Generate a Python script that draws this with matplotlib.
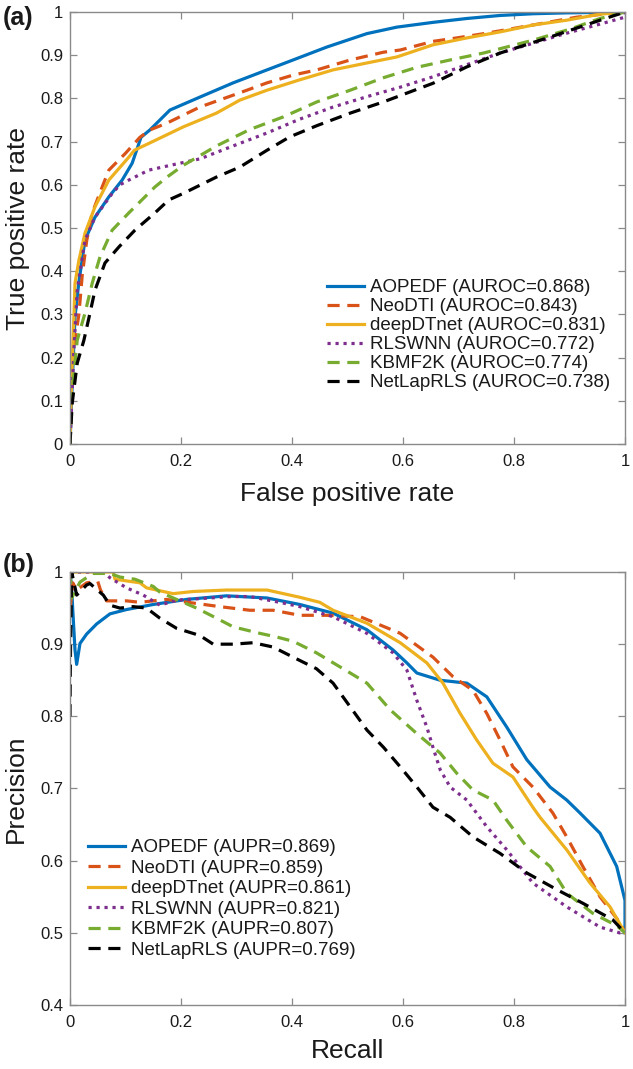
"""
Curvas ROC (a) y Precision-Recall (b) de los seis metodos.
"""

import matplotlib
matplotlib.use("Agg")
import matplotlib.pyplot as plt

# ---------------------------------------------------------------- datos
methods = ["AOPEDF", "NeoDTI", "deepDTnet", "RLSWNN", "KBMF2K", "NetLapRLS"]
auroc = ["0.868", "0.843", "0.831", "0.772", "0.774", "0.738"]
aupr = ["0.869", "0.859", "0.861", "0.821", "0.807", "0.769"]

# (a) ROC: false positive rate / true positive rate
aopedf_fpr = [0, 0.004, 0.009, 0.016, 0.027, 0.045, 0.07, 0.094, 0.112, 0.12, 0.128, 0.144, 0.18, 0.234, 0.294, 0.355, 0.402, 0.463, 0.535, 0.589, 0.654, 0.715, 0.775, 0.835, 0.895, 0.95, 1.0]
aopedf_tpr = [0, 0.14, 0.294, 0.375, 0.472, 0.525, 0.572, 0.611, 0.65, 0.68, 0.71, 0.727, 0.773, 0.803, 0.836, 0.866, 0.889, 0.919, 0.95, 0.965, 0.976, 0.985, 0.992, 0.996, 0.998, 0.999, 1.0]

neodti_fpr = [0, 0.004, 0.009, 0.016, 0.018, 0.022, 0.03, 0.04, 0.058, 0.07, 0.1, 0.126, 0.144, 0.175, 0.234, 0.306, 0.355, 0.402, 0.445, 0.505, 0.565, 0.595, 0.654, 0.697, 0.751, 0.865, 0.913, 0.96, 1.0]
neodti_tpr = [0, 0.13, 0.24, 0.3, 0.33, 0.39, 0.47, 0.535, 0.595, 0.634, 0.673, 0.71, 0.727, 0.743, 0.78, 0.813, 0.836, 0.854, 0.866, 0.889, 0.907, 0.912, 0.932, 0.94, 0.951, 0.977, 0.988, 0.995, 1.0]

deepdtnet_fpr = [0, 0.003, 0.007, 0.009, 0.016, 0.027, 0.045, 0.07, 0.106, 0.116, 0.144, 0.204, 0.264, 0.306, 0.355, 0.414, 0.474, 0.535, 0.589, 0.654, 0.715, 0.775, 0.835, 0.895, 0.955, 1.0]
deepdtnet_tpr = [0, 0.15, 0.294, 0.372, 0.425, 0.488, 0.549, 0.611, 0.664, 0.68, 0.697, 0.734, 0.766, 0.796, 0.819, 0.843, 0.866, 0.882, 0.896, 0.924, 0.94, 0.954, 0.97, 0.981, 0.995, 1.0]

rlswnn_fpr = [0, 0.002, 0.007, 0.013, 0.027, 0.045, 0.076, 0.09, 0.106, 0.142, 0.184, 0.234, 0.294, 0.355, 0.414, 0.474, 0.535, 0.595, 0.654, 0.715, 0.775, 0.835, 0.895, 0.955, 1.0, 1.0]
rlswnn_tpr = [0, 0.062, 0.217, 0.356, 0.472, 0.525, 0.58, 0.6, 0.611, 0.634, 0.646, 0.66, 0.69, 0.72, 0.752, 0.78, 0.804, 0.826, 0.85, 0.878, 0.905, 0.928, 0.951, 0.972, 0.988, 1.0]

kbmf2k_fpr = [0, 0.002, 0.013, 0.027, 0.04, 0.054, 0.076, 0.106, 0.153, 0.175, 0.204, 0.264, 0.324, 0.384, 0.445, 0.505, 0.565, 0.625, 0.685, 0.745, 0.835, 0.9, 0.955, 1.0]
kbmf2k_tpr = [0, 0.095, 0.24, 0.303, 0.372, 0.433, 0.495, 0.535, 0.595, 0.618, 0.645, 0.69, 0.728, 0.757, 0.792, 0.819, 0.848, 0.872, 0.889, 0.905, 0.935, 0.96, 0.985, 1.0]

netlaprls_fpr = [0, 0.004, 0.013, 0.025, 0.036, 0.045, 0.063, 0.088, 0.117, 0.153, 0.178, 0.204, 0.264, 0.306, 0.355, 0.396, 0.445, 0.505, 0.565, 0.654, 0.715, 0.775, 0.865, 0.955, 1.0]
netlaprls_tpr = [0, 0.095, 0.187, 0.24, 0.303, 0.356, 0.419, 0.456, 0.495, 0.535, 0.565, 0.58, 0.618, 0.641, 0.68, 0.711, 0.737, 0.766, 0.792, 0.835, 0.873, 0.905, 0.942, 0.981, 1.0]

# (b) PR: recall / precision
aopedf_rec = [0, 0.003, 0.005, 0.009, 0.012, 0.018, 0.03, 0.048, 0.072, 0.102, 0.15, 0.21, 0.282, 0.355, 0.414, 0.474, 0.535, 0.582, 0.607, 0.625, 0.667, 0.715, 0.751, 0.787, 0.823, 0.865, 0.895, 0.919, 0.955, 0.985, 1.0, 1.0]
aopedf_prec = [1.0, 0.978, 0.947, 0.892, 0.872, 0.901, 0.914, 0.928, 0.942, 0.948, 0.955, 0.962, 0.967, 0.964, 0.955, 0.943, 0.92, 0.892, 0.874, 0.86, 0.85, 0.846, 0.827, 0.785, 0.74, 0.702, 0.684, 0.666, 0.638, 0.592, 0.545, 0.5]

neodti_rec = [0, 0.005, 0.012, 0.03, 0.05, 0.055, 0.066, 0.102, 0.126, 0.174, 0.222, 0.27, 0.324, 0.366, 0.414, 0.463, 0.523, 0.595, 0.654, 0.69, 0.726, 0.751, 0.775, 0.798, 0.834, 0.87, 0.895, 0.924, 0.955, 0.991, 1.0]
neodti_prec = [0.947, 0.985, 0.975, 0.985, 0.987, 0.975, 0.96, 0.96, 0.958, 0.962, 0.957, 0.952, 0.947, 0.947, 0.94, 0.94, 0.938, 0.915, 0.882, 0.855, 0.836, 0.804, 0.767, 0.73, 0.702, 0.666, 0.633, 0.592, 0.55, 0.514, 0.5]

deepdtnet_rec = [0, 0.078, 0.081, 0.126, 0.138, 0.186, 0.222, 0.282, 0.355, 0.414, 0.45, 0.474, 0.535, 0.595, 0.643, 0.672, 0.703, 0.733, 0.762, 0.798, 0.834, 0.847, 0.895, 0.937, 0.973, 1.0]
deepdtnet_prec = [1.0, 1.0, 0.99, 0.985, 0.978, 0.97, 0.973, 0.975, 0.975, 0.965, 0.958, 0.947, 0.929, 0.902, 0.874, 0.846, 0.804, 0.767, 0.735, 0.716, 0.674, 0.66, 0.615, 0.569, 0.536, 0.5]

rlswnn_rec = [0, 0.06, 0.072, 0.102, 0.132, 0.162, 0.192, 0.252, 0.29, 0.324, 0.384, 0.414, 0.474, 0.535, 0.582, 0.607, 0.625, 0.643, 0.654, 0.667, 0.685, 0.715, 0.751, 0.787, 0.834, 0.895, 0.955, 0.99, 1.0]
rlswnn_prec = [1.0, 1.0, 0.992, 0.978, 0.968, 0.954, 0.961, 0.964, 0.966, 0.966, 0.957, 0.952, 0.938, 0.915, 0.888, 0.864, 0.822, 0.785, 0.757, 0.726, 0.702, 0.684, 0.647, 0.615, 0.569, 0.536, 0.508, 0.5, 0.5]

kbmf2k_rec = [0, 0.003, 0.018, 0.041, 0.072, 0.09, 0.117, 0.15, 0.162, 0.186, 0.228, 0.264, 0.294, 0.342, 0.372, 0.402, 0.444, 0.505, 0.535, 0.577, 0.625, 0.667, 0.697, 0.726, 0.762, 0.787, 0.823, 0.865, 0.895, 0.942, 0.985, 1.0]
kbmf2k_prec = [1.0, 0.964, 0.986, 0.998, 0.998, 0.993, 0.99, 0.98, 0.972, 0.964, 0.95, 0.936, 0.924, 0.915, 0.91, 0.904, 0.888, 0.86, 0.846, 0.809, 0.776, 0.749, 0.721, 0.698, 0.684, 0.656, 0.619, 0.592, 0.555, 0.527, 0.51, 0.5]

netlaprls_rec = [0, 0.001, 0.003, 0.012, 0.03, 0.036, 0.06, 0.072, 0.09, 0.114, 0.138, 0.162, 0.192, 0.234, 0.258, 0.294, 0.33, 0.366, 0.402, 0.444, 0.474, 0.505, 0.535, 0.565, 0.595, 0.625, 0.654, 0.685, 0.726, 0.775, 0.823, 0.877, 0.924, 0.978, 1.0]
netlaprls_prec = [0.80, 0.90, 1.0, 0.968, 0.982, 0.984, 0.968, 0.954, 0.95, 0.952, 0.95, 0.936, 0.922, 0.912, 0.9, 0.9, 0.902, 0.896, 0.882, 0.866, 0.846, 0.813, 0.781, 0.757, 0.73, 0.702, 0.674, 0.66, 0.633, 0.61, 0.583, 0.56, 0.541, 0.518, 0.5]

roc_curves = [
    (aopedf_fpr, aopedf_tpr), (neodti_fpr, neodti_tpr), (deepdtnet_fpr, deepdtnet_tpr),
    (rlswnn_fpr, rlswnn_tpr), (kbmf2k_fpr, kbmf2k_tpr), (netlaprls_fpr, netlaprls_tpr),
]
pr_curves = [
    (aopedf_rec, aopedf_prec), (neodti_rec, neodti_prec), (deepdtnet_rec, deepdtnet_prec),
    (rlswnn_rec, rlswnn_prec), (kbmf2k_rec, kbmf2k_prec), (netlaprls_rec, netlaprls_prec),
]

# colores y estilos tipo MATLAB
colors = ["#0072BD", "#D95319", "#EDB120", "#7E2F8E", "#77AC30", "#000000"]
styles = ["-", (0, (3.8, 2.4)), "-", (0, (1.0, 1.5)), (0, (3.8, 2.4)), (0, (3.8, 2.4))]

plt.rcParams["font.family"] = ["Liberation Sans", "DejaVu Sans"]

SPINE = "#8a8a8a"
TXT = "#1a1a1a"


def _style_axes(ax, yticks, yticklabels):
    ax.set_xlim(0, 1)
    ax.set_xticks([0, 0.2, 0.4, 0.6, 0.8, 1.0])
    ax.set_xticklabels(["0", "0.2", "0.4", "0.6", "0.8", "1"])
    ax.set_yticks(yticks)
    ax.set_yticklabels(yticklabels)
    for sp in ax.spines.values():
        sp.set_color(SPINE)
        sp.set_linewidth(1.0)
    ax.tick_params(axis="both", direction="in", top=True, right=True, length=5,
                   width=0.9, color=SPINE, labelsize=12, labelcolor=TXT)
    ax.tick_params(axis="x", pad=7.5)
    ax.tick_params(axis="y", pad=5)


fig = plt.figure(figsize=(6.33, 10.69), dpi=100)
ax_a = fig.add_axes([70 / 633, 1 - 444 / 1069, 555 / 633, 432 / 1069])
ax_b = fig.add_axes([70 / 633, 1 - 1005 / 1069, 555 / 633, 433 / 1069])

# (a) ROC
for (x, y), name, val, c, ls in zip(roc_curves, methods, auroc, colors, styles):
    ax_a.plot(x, y, color=c, linestyle=ls, linewidth=2.3, label=f"{name} (AUROC={val})")
ax_a.set_ylim(0, 1)
_style_axes(ax_a, [i / 10 for i in range(11)], ["0"] + [f"0.{i}" for i in range(1, 10)] + ["1"])
ax_a.set_xlabel("False positive rate", fontsize=19, color=TXT, va="center")
ax_a.set_ylabel("True positive rate", fontsize=19, color=TXT, va="center")
ax_a.xaxis.set_label_coords(0.5, -0.1157)
ax_a.yaxis.set_label_coords(-0.094, 0.5)
ax_a.legend(loc="upper left", bbox_to_anchor=(0.463, 0.382), frameon=False, fontsize=13.5,
            borderpad=0, borderaxespad=0, handlelength=2.0, handletextpad=0.27, labelspacing=0.1,
            labelcolor=TXT)

# (b) PR
for (x, y), name, val, c, ls in zip(pr_curves, methods, aupr, colors, styles):
    ax_b.plot(x, y, color=c, linestyle=ls, linewidth=2.3, label=f"{name} (AUPR={val})")
ax_b.set_ylim(0.4, 1)
_style_axes(ax_b, [0.4, 0.5, 0.6, 0.7, 0.8, 0.9, 1.0], ["0.4", "0.5", "0.6", "0.7", "0.8", "0.9", "1"])
ax_b.set_xlabel("Recall", fontsize=19, color=TXT, va="center")
ax_b.set_ylabel("Precision", fontsize=19, color=TXT, va="center")
ax_b.xaxis.set_label_coords(0.5, -0.107)
ax_b.yaxis.set_label_coords(-0.097, 0.5)
ax_b.legend(loc="upper left", bbox_to_anchor=(0.0324, 0.383), frameon=False, fontsize=13.5,
            borderpad=0, borderaxespad=0, handlelength=2.0, handletextpad=0.27, labelspacing=0.18,
            labelcolor=TXT)

fig.text(3 / 633, 1 - 18 / 1069, "(a)", fontsize=18, fontweight="bold", va="center", ha="left", color=TXT)
fig.text(3 / 633, 1 - 565 / 1069, "(b)", fontsize=18, fontweight="bold", va="center", ha="left", color=TXT)

fig.savefig("out.png", dpi=100)
plt.close(fig)
